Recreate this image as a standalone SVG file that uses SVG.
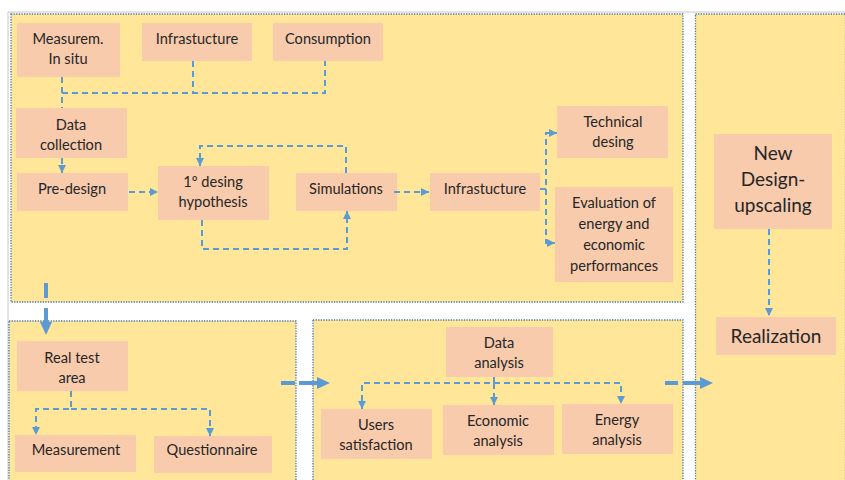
<svg xmlns="http://www.w3.org/2000/svg" width="845" height="480" viewBox="0 0 845 480">
<defs>
<style>
.panel{fill:#ffe699;stroke:#4a78a8;stroke-width:1.3;stroke-dasharray:1.3,1.3}
.box{fill:#f8cbad}
.t{font-family:Lato,"Open Sans","Liberation Sans",sans-serif;font-size:14.6px;fill:#262626;text-anchor:middle}
.tl{font-family:Lato,"Open Sans","Liberation Sans",sans-serif;font-size:19px;fill:#262626;text-anchor:middle}
.c{fill:none;stroke:#5b9bd5;stroke-width:2;stroke-dasharray:6,4}
.big{fill:none;stroke:#5b9bd5;stroke-width:4}
</style>
<marker id="ah" viewBox="0 0 10 10" refX="10" refY="5" markerWidth="8" markerHeight="8" markerUnits="userSpaceOnUse" orient="auto">
<path d="M0,0L10,5L0,10z" fill="#5b9bd5"/>
</marker>
</defs>
<rect width="845" height="480" fill="#fff"/>
<path d="M8,480V12H845" fill="none" stroke="#c8c8c8" stroke-width="1"/>
<g id="panels">
<rect class="panel" x="11" y="14" width="672" height="288"/>
<rect class="panel" x="695.5" y="14" width="150" height="470"/>
<rect class="panel" x="9" y="321" width="287" height="165"/>
<rect class="panel" x="313" y="320" width="370" height="165"/>
</g>
<g id="n_measurem"><rect class="box" x="17" y="23" width="103" height="54"/><text class="t" x="68" y="44">Measurem.</text><text class="t" x="68" y="64">In situ</text></g>
<g id="n_infra1"><rect class="box" x="142" y="23" width="110" height="38"/><text class="t" x="197" y="44">Infrastucture</text></g>
<g id="n_consumption"><rect class="box" x="273" y="23" width="110" height="38"/><text class="t" x="328" y="44">Consumption</text></g>
<g id="n_datacollection"><rect class="box" x="16" y="108" width="111" height="50"/><text class="t" x="71" y="130">Data</text><text class="t" x="71" y="150">collection</text></g>
<g id="n_predesign"><rect class="box" x="17" y="173" width="111" height="38"/><text class="t" x="72" y="194">Pre-design</text></g>
<g id="n_hypothesis"><rect class="box" x="158" y="166" width="111" height="54"/><text class="t" x="213" y="187">1º desing</text><text class="t" x="213" y="207">hypothesis</text></g>
<g id="n_simulations"><rect class="box" x="296" y="173" width="101" height="38"/><text class="t" x="346" y="194">Simulations</text></g>
<g id="n_infra2"><rect class="box" x="430" y="173" width="110" height="38"/><text class="t" x="485" y="194">Infrastucture</text></g>
<g id="n_technical"><rect class="box" x="557" y="106" width="111" height="52"/><text class="t" x="613" y="127">Technical</text><text class="t" x="613" y="147">desing</text></g>
<g id="n_evaluation"><rect class="box" x="555" y="187" width="118" height="95"/><text class="t" x="614" y="208">Evaluation of</text><text class="t" x="614" y="229">energy and</text><text class="t" x="614" y="250">economic</text><text class="t" x="614" y="271">performances</text></g>
<g id="n_newdesign"><rect class="box" x="714" y="134" width="118" height="95"/><text class="tl" x="773" y="160">New</text><text class="tl" x="773" y="186">Design-</text><text class="tl" x="773" y="212">upscaling</text></g>
<g id="n_realization"><rect class="box" x="716" y="317" width="120" height="38"/><text class="tl" x="776" y="343">Realization</text></g>
<g id="n_realtest"><rect class="box" x="17" y="341" width="111" height="50"/><text class="t" x="72" y="363">Real test</text><text class="t" x="72" y="383">area</text></g>
<g id="n_measurement"><rect class="box" x="15" y="435" width="121" height="37"/><text class="t" x="76" y="455">Measurement</text></g>
<g id="n_questionnaire"><rect class="box" x="154" y="436" width="118" height="37"/><text class="t" x="212" y="455">Questionnaire</text></g>
<g id="n_dataanalysis"><rect class="box" x="446" y="327" width="107" height="50"/><text class="t" x="499" y="348">Data</text><text class="t" x="499" y="368">analysis</text></g>
<g id="n_users"><rect class="box" x="321" y="409" width="111" height="50"/><text class="t" x="376" y="430">Users</text><text class="t" x="376" y="450">satisfaction</text></g>
<g id="n_economic"><rect class="box" x="443" y="405" width="111" height="50"/><text class="t" x="498" y="426">Economic</text><text class="t" x="498" y="446">analysis</text></g>
<g id="n_energy"><rect class="box" x="562" y="404" width="111" height="50"/><text class="t" x="617" y="425">Energy</text><text class="t" x="617" y="445">analysis</text></g>
<g id="connectors">
<path class="c" d="M62,77V108M62,93H325V61M193,61V93"/>
<path class="c" d="M62,158V173" marker-end="url(#ah)"/>
<path class="c" d="M129,192H158" marker-end="url(#ah)"/>
<path class="c" d="M346,173V146H200V166" marker-end="url(#ah)"/>
<path class="c" d="M202,220V249H347V211" marker-end="url(#ah)"/>
<path class="c" d="M394,192H429" marker-end="url(#ah)"/>
<path class="c" d="M540,189H546V133H557" marker-end="url(#ah)"/>
<path class="c" d="M546,189V243H555" marker-end="url(#ah)"/>
<path class="c" d="M71,391V409H36V435" marker-end="url(#ah)"/>
<path class="c" d="M71,409H210V436" marker-end="url(#ah)"/>
<path class="c" d="M494,377V383H362V409" marker-end="url(#ah)"/>
<path class="c" d="M494,383V405" marker-end="url(#ah)"/>
<path class="c" d="M494,383H621V404" marker-end="url(#ah)"/>
<path class="c" d="M769,229V316" marker-end="url(#ah)"/>
<path class="big" d="M46,283V298M46,308V324"/>
<path d="M40,322L52,322L46,335z" fill="#5b9bd5"/>
<path class="big" d="M281,383H295M299,383H317"/>
<path d="M317,377L330,383L317,389z" fill="#5b9bd5"/>
<path class="big" d="M665,383H678M683,383H700"/>
<path d="M700,377L713,383L700,389z" fill="#5b9bd5"/>
</g>
</svg>
